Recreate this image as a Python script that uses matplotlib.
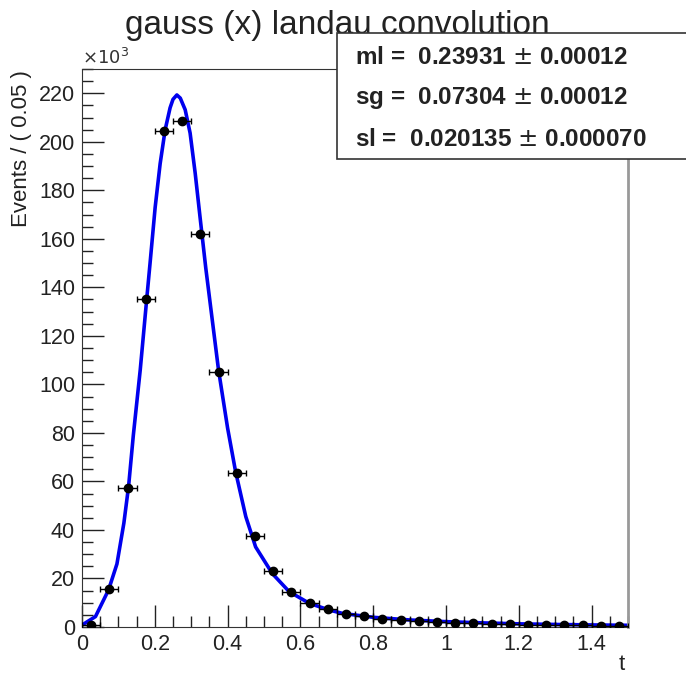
import matplotlib
matplotlib.use("Agg")
import matplotlib.pyplot as plt
import numpy as np

plt.rcParams['font.family'] = ['Liberation Sans', 'DejaVu Sans']

# binned data (thousands of events per 0.05)
bin_centers = [0.025, 0.075, 0.125, 0.175, 0.225, 0.275, 0.325, 0.375, 0.425, 0.475,
               0.525, 0.575, 0.625, 0.675, 0.725, 0.775, 0.825, 0.875, 0.925, 0.975,
               1.025, 1.075, 1.125, 1.175, 1.225, 1.275, 1.325, 1.375, 1.425, 1.475]
counts = [1.0, 15.5, 57.5, 135.0, 204.5, 208.5, 162.0, 105.0, 63.5, 37.5,
          23.0, 14.5, 10.0, 7.5, 5.5, 4.5, 3.5, 3.0, 2.5, 2.0,
          1.8, 1.5, 1.3, 1.1, 1.0, 0.9, 0.8, 0.7, 0.6, 0.5]
bin_half = 0.025

# fitted curve
fit_x = [0.0, 0.037, 0.073, 0.096, 0.115, 0.128, 0.141, 0.16, 0.178, 0.187,
         0.201, 0.2147, 0.2285, 0.242, 0.25, 0.2606, 0.27, 0.2835, 0.297, 0.311,
         0.325, 0.34, 0.375, 0.40, 0.422, 0.45, 0.477, 0.523, 0.569, 0.624,
         0.679, 0.716, 0.8, 0.9, 1.0, 1.1, 1.2, 1.3, 1.4, 1.5]
fit_y = [0.8, 4.3, 15.3, 26.0, 42.8, 58.0, 79.0, 106.0, 135.5, 150.0,
         173.0, 191.0, 205.0, 214.0, 217.5, 219.3, 218.0, 213.2, 203.6, 187.0,
         168.0, 148.0, 106.0, 82.0, 64.0, 45.5, 33.0, 22.0, 14.6, 9.8,
         7.0, 5.6, 4.0, 2.9, 2.2, 1.7, 1.3, 1.05, 0.85, 0.7]

title = "gauss (x) landau convolution"
stats = [("ml", "0.23931", "0.00012"),
         ("sg", "0.07304", "0.00012"),
         ("sl", "0.020135", "0.000070")]

W, H = 686, 675
fig = plt.figure(figsize=(W / 100, H / 100), dpi=100)
ax = fig.add_axes([82 / W, 1 - 627 / H, (628 - 82) / W, (627 - 69) / H])

# data points with x error bars
ax.errorbar(bin_centers, counts, xerr=bin_half, fmt='o', color='black',
            ms=6, elinewidth=1.0, capsize=2.5, capthick=1.0, zorder=3)
# fit curve
ax.plot(fit_x, fit_y, color='#0000ee', lw=2.6, zorder=2)

ax.set_xlim(0, 1.5)
ax.set_ylim(0, 230)
ax.set_xticks(np.arange(0, 1.41, 0.2))
ax.set_xticklabels(["0", "0.2", "0.4", "0.6", "0.8", "1", "1.2", "1.4"])
ax.set_xticks(np.arange(0, 1.51, 0.05), minor=True)
ax.set_yticks(np.arange(0, 221, 20))
ax.set_yticks(np.arange(0, 231, 5), minor=True)
ax.tick_params(which='both', direction='in', top=False, right=False,
               labelsize=15.5, colors='#222222')
ax.tick_params(which='major', length=16, width=1.0, pad=5)
ax.tick_params(which='minor', length=8, width=1.0)
for side in ['left', 'bottom', 'top']:
    ax.spines[side].set_color('#333333')
ax.spines['right'].set_color('#999999')
ax.spines['right'].set_linewidth(2)

fig.text(82 / W, 1 - 58 / H, r"$\times10^{3}$", fontsize=13, color='#333333',
         ha='left', va='center')
fig.text(22 / W, 1 - 70 / H, "Events / ( 0.05 )", rotation=90, fontsize=16,
         ha='center', va='top', color='#222222')
fig.text(622 / W, 1 - 665 / H, "t", fontsize=16, ha='center', va='center',
         color='#222222')

fig.text(337 / W, 1 - 34 / H, title, fontsize=24, ha='center', va='baseline',
         color='#222222')

# stats box
box = plt.Rectangle((337 / W, 1 - 159 / H), (W - 337) / W + 0.01, (159 - 33) / H,
                    transform=fig.transFigure, facecolor='white',
                    edgecolor='#333333', lw=1.2, zorder=5)
fig.add_artist(box)
for i, (name, val, err) in enumerate(stats):
    y = 1 - (57 + i * 41) / H
    fig.text(355 / W, y, f"{name} =  {val} $\\pm$ {err}", fontsize=17.5,
             fontweight='bold', ha='left', va='center', color='#222222',
             zorder=6)

fig.savefig("out.png", dpi=100)
